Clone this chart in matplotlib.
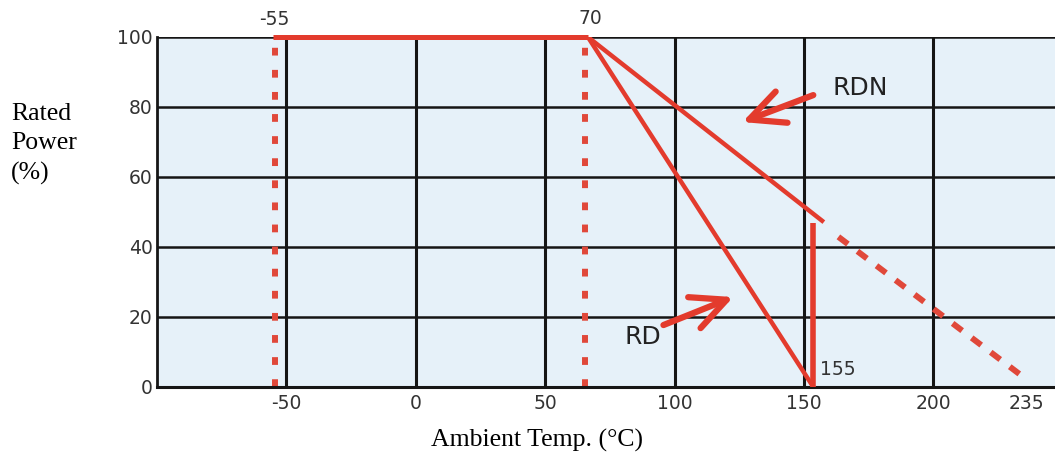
import numpy as np
import matplotlib.pyplot as plt

# values (drawn positions, schematic axis)
x_ticks = [-50, 0, 50, 100, 150, 200, 236]
x_labels = ['-50', '0', '50', '100', '150', '200', '235']
y_ticks = [0, 20, 40, 60, 80, 100]
grid_x = [-50, 0, 50, 100, 150, 200]
grid_y = [20, 40, 60, 80, 100]

flat_x = [-55, 66.5]
flat_y = [100, 100]
rd_x = [66.5, 153.6]
rd_y = [100, 0]
rdn_x = [66.5, 157]
rdn_y = [100, 47.5]
rdn_ext_x = [163.3, 236.3]
rdn_ext_y = [42.9, 2]
cut_x = [153.6, 153.6]
cut_y = [0, 47]
limit_x = [-54.3, 65.5]

red = '#e33b2d'
dot_red = '#e0483a'

fig = plt.figure(figsize=(10.55, 4.59), dpi=100)
ax = fig.add_axes([157/1055, 1-387/459, 1-157/1055, (387-37)/459])
ax.set_facecolor('#e6f1f9')
ax.set_xlim(-100, 247)
ax.set_ylim(0, 100)

# grid
for gx in grid_x:
    ax.axvline(gx, color='#151515', lw=2.2, zorder=1)
for gy in grid_y:
    ax.axhline(gy, color='#151515', lw=1.8, zorder=1)

for s in ['top', 'right']:
    ax.spines[s].set_visible(False)
ax.spines['left'].set_linewidth(2.0)
ax.spines['bottom'].set_linewidth(2.2)
ax.spines['left'].set_color('#151515')
ax.spines['bottom'].set_color('#151515')

# dotted temperature limits
for lx in limit_x:
    ax.plot([lx, lx], [0, 99], color=dot_red, lw=4.3, dashes=(1.3, 2.4), zorder=2)

ax.plot(flat_x, flat_y, color=red, lw=3.6, solid_capstyle='butt', zorder=3, clip_on=False)
ax.plot(rd_x, rd_y, color=red, lw=3.2, zorder=3)
ax.plot(rdn_x, rdn_y, color=red, lw=3.2, zorder=3)
ax.plot(cut_x, cut_y, color=red, lw=4.0, solid_capstyle='butt', zorder=3)
ax.plot(rdn_ext_x, rdn_ext_y, color=dot_red, lw=4.3, dashes=(2.0, 2.0), zorder=3)

# arrows and labels
arrow = dict(arrowstyle='->,head_length=1.25,head_width=0.6', lw=4.5, color=red,
             shrinkA=0, shrinkB=0, mutation_scale=20)
ax.annotate('', xy=(126.2, 75.7), xytext=(153.6, 83.4), arrowprops=arrow, zorder=4)
ax.annotate('', xy=(122.7, 25.7), xytext=(95.7, 17.7), arrowprops=arrow, zorder=4)
ax.text(171.8, 85.4, 'RDN', fontsize=18, color='#222222', ha='center', va='center')
ax.text(87.6, 14.3, 'RD', fontsize=18, color='#222222', ha='center', va='center')
ax.text(156.3, 4.9, '155', fontsize=13.5, color='#333333', ha='left', va='center')
ax.text(-54.6, 104.9, '-55', fontsize=13.5, color='#333333', ha='center', va='center', clip_on=False)
ax.text(67.4, 105.2, '70', fontsize=13.5, color='#333333', ha='center', va='center', clip_on=False)

ax.set_xticks(x_ticks)
ax.set_xticklabels(x_labels)
ax.set_yticks(y_ticks)
ax.tick_params(axis='both', length=0, labelsize=13.5, labelcolor='#333333')
ax.tick_params(axis='x', pad=5)
ax.tick_params(axis='y', pad=3)

fig.text(537/1055, 1-440/459, 'Ambient Temp. (°C)', fontsize=18.5,
         family='Liberation Serif', ha='center', va='center')
fig.text(11/1055, 1-144/459, 'Rated\nPower\n(%)', fontsize=18.5,
         family='Liberation Serif', ha='left', va='center', linespacing=1.42)

fig.savefig('out.png', dpi=100)
